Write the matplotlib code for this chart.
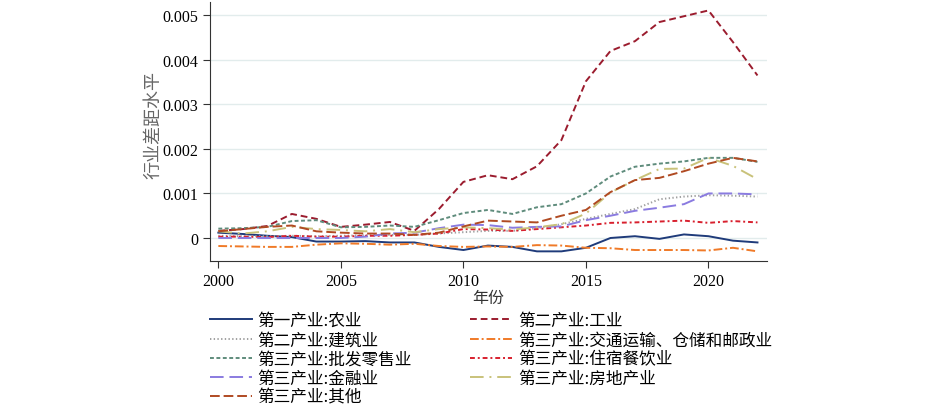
import matplotlib
matplotlib.use('Agg')
import matplotlib.pyplot as plt

# years and the 9 industry gap series
years = list(range(2000, 2023))

agri = [0.00012, 0.00009, 0.00005, 0.00002, -0.00008, -0.00008, -0.00007, -0.0001, -0.0001, -0.0002,
        -0.00027, -0.00017, -0.0002, -0.0003, -0.0003, -0.00022, 0.0, 0.00004, -0.00002, 0.00008,
        0.00004, -0.00006, -0.0001]
industry = [0.00016, 0.0002, 0.00027, 0.00054, 0.00043, 0.00025, 0.0003, 0.00036, 0.00016, 0.00065,
            0.00126, 0.00141, 0.00132, 0.00161, 0.0022, 0.00352, 0.0042, 0.00442, 0.00485, 0.00498,
            0.00511, 0.0044, 0.00365]
construction = [0.00005, 0.00004, 0.00004, 0.00005, 0.00004, 0.00005, 0.00006, 0.00007, 0.00007, 0.0001,
                0.00013, 0.00016, 0.00016, 0.00022, 0.00031, 0.00043, 0.00054, 0.00065, 0.00087, 0.00093,
                0.00096, 0.00095, 0.00093]
transport = [-0.00018, -0.00019, -0.0002, -0.0002, -0.00015, -0.00012, -0.00013, -0.00015, -0.00013, -0.00018,
             -0.0002, -0.00019, -0.0002, -0.00016, -0.00017, -0.00022, -0.00023, -0.00027, -0.00027, -0.00027,
             -0.00028, -0.00022, -0.0003]
wholesale = [0.00021, 0.00022, 0.00025, 0.00038, 0.0004, 0.00024, 0.00025, 0.00028, 0.00025, 0.0004,
             0.00056, 0.00063, 0.00054, 0.00069, 0.00076, 0.001, 0.00138, 0.0016, 0.00167, 0.00172,
             0.0018, 0.0018, 0.00171]
hotel = [0.00003, 0.00003, 0.00002, 0.00005, 0.00003, 0.00003, 0.00005, 0.00005, 0.00007, 0.0001,
         0.0002, 0.00019, 0.00016, 0.0002, 0.00024, 0.00028, 0.00034, 0.00035, 0.00037, 0.00039,
         0.00034, 0.00038, 0.00035]
finance = [0.0, 0.0, 0.0, 0.0, 0.0, 0.0, 0.00003, 0.0001, 0.00012, 0.00022,
           0.0003, 0.00029, 0.00023, 0.00025, 0.00026, 0.0004, 0.0005, 0.00061, 0.00068, 0.00076,
           0.001, 0.001, 0.00098]
realestate = [0.00015, 0.0001, 0.00015, 0.00025, 0.0002, 0.00018, 0.00015, 0.0002, 0.00013, 0.0002,
              0.00024, 0.00022, 0.00019, 0.00024, 0.00031, 0.00055, 0.00102, 0.0013, 0.00155, 0.00156,
              0.0018, 0.00162, 0.00132]
other = [0.00015, 0.0002, 0.00025, 0.00028, 0.00015, 0.00012, 0.0001, 0.0001, 0.00007, 0.00012,
         0.00026, 0.00039, 0.00037, 0.00035, 0.0005, 0.00063, 0.00103, 0.0013, 0.00135, 0.0015,
         0.00167, 0.0018, 0.00172]

labels = ['第一产业:农业', '第二产业:工业', '第二产业:建筑业', '第三产业:交通运输、仓储和邮政业',
          '第三产业:批发零售业', '第三产业:住宿餐饮业', '第三产业:金融业', '第三产业:房地产业',
          '第三产业:其他']
series = [agri, industry, construction, transport, wholesale, hotel, finance, realestate, other]
colors = ['#1f3b7a', '#9b1c2e', '#a0a0a0', '#f07a28', '#5f8c7c', '#d8202e', '#8a7be0', '#c9c27a', '#b04a22']
dashes = [(None, None), (3.5, 2), (0.7, 1.2), (4.5, 1.5, 1, 1.5), (2, 1.3),
          (2.5, 1.5, 1, 1.5), (7, 3), (7, 3, 1, 3), (5, 2)]

plt.rcParams['font.family'] = ['Noto Sans CJK SC', 'DejaVu Sans']

fig = plt.figure(figsize=(9.26, 4.10), dpi=100)
ax = fig.add_axes([0.2268, 0.3617, 0.601, 0.631])

lines = []
for s, lab, c, d in zip(series, labels, colors, dashes):
    ln, = ax.plot(years, s, color=c, lw=1.4, label=lab)
    if d[0] is not None:
        ln.set_dashes(d)
    lines.append(ln)

ax.set_xlim(1999.66, 2022.37)
ax.set_ylim(-0.00051, 0.0053)
ax.set_xticks([2000, 2005, 2010, 2015, 2020])
ax.set_yticks([0, 0.001, 0.002, 0.003, 0.004, 0.005])
ax.set_yticklabels(['0', '0.001', '0.002', '0.003', '0.004', '0.005'])
for t in ax.get_xticklabels() + ax.get_yticklabels():
    t.set_fontfamily('Liberation Serif')
    t.set_fontsize(11.5)
ax.grid(axis='y', color='#e2ecec', lw=1)
ax.set_axisbelow(True)
ax.spines['top'].set_visible(False)
ax.spines['right'].set_visible(False)
ax.spines['left'].set_color('#333333')
ax.spines['bottom'].set_color('#333333')
ax.tick_params(axis='both', direction='out', length=5, color='#333333')
ax.set_ylabel('行业差距水平', fontsize=13, color='#666666')
ax.yaxis.set_label_coords(-0.085, 0.53)
ax.set_xlabel('年份', fontsize=11.5, color='#333333', labelpad=0)

# legend is filled row by row in the reference, matplotlib fills columns
order = [0, 2, 4, 6, 8, 1, 3, 5, 7]
fig.legend(handles=[lines[i] for i in order], loc='upper left', bbox_to_anchor=(0.2268, 0.236),
           ncol=2, frameon=False, fontsize=12, handlelength=2.5, handletextpad=0.35,
           columnspacing=3.5, labelspacing=0.13, borderaxespad=0, borderpad=0)

fig.savefig('out.png', dpi=100)
